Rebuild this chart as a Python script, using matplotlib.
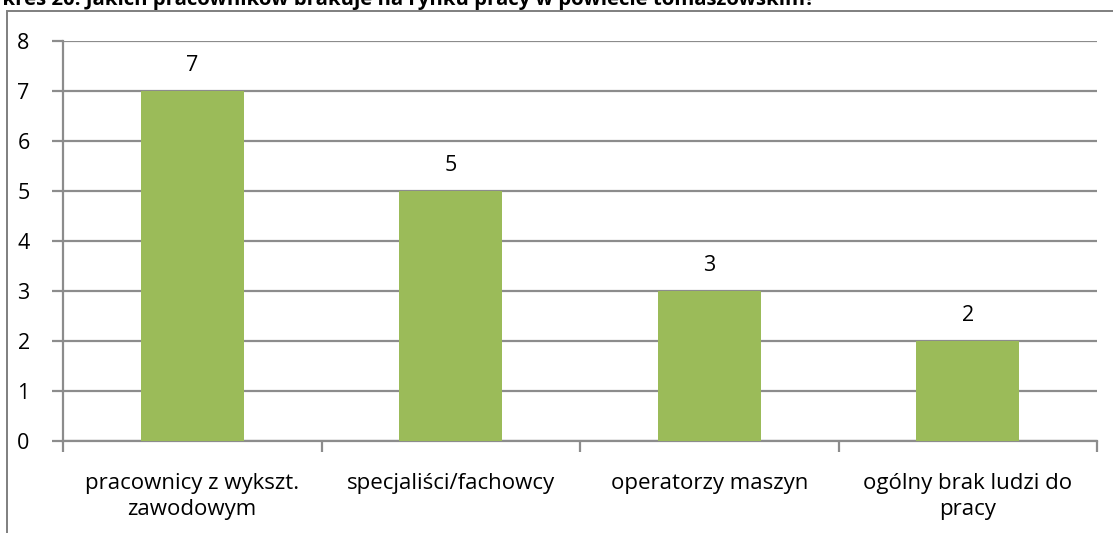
import matplotlib.pyplot as plt
from matplotlib.patches import Rectangle

categories = ['pracownicy z wykszt.\nzawodowym', 'specjaliści/fachowcy',
              'operatorzy maszyn', 'ogólny brak ludzi do\npracy']
values = [7, 5, 3, 2]
y_ticks = [0, 1, 2, 3, 4, 5, 6, 7, 8]
title = 'Wykres 20. Jakich pracowników brakuje na rynku pracy w powiecie tomaszowskim?'


def main():
    plt.rcParams['font.family'] = ['Open Sans', 'DejaVu Sans']
    fig = plt.figure(figsize=(11.13, 5.33), dpi=100)
    ax = fig.add_axes([63 / 1113, 1 - 441 / 533, (1097 - 63) / 1113, 400 / 533])

    grid_col = '#8c8c8c'
    x = range(len(values))
    ax.bar(x, values, width=0.4, color='#9bbb59', zorder=3)
    for xi, v in zip(x, values):
        ax.text(xi, v + 0.3, str(v), ha='center', va='bottom', fontsize=15.5)

    ax.set_xlim(-0.5, len(values) - 0.5)
    ax.set_ylim(0, 8)
    ax.set_yticks(y_ticks)
    ax.yaxis.grid(True, color=grid_col, linewidth=1.6, zorder=0)
    ax.set_xticks(list(x))
    ax.set_xticklabels(categories, fontsize=16, linespacing=1.3)
    ax.set_xticks([i - 0.5 for i in range(len(values) + 1)], minor=True)
    ax.tick_params(axis='x', which='major', length=0, pad=23)
    ax.tick_params(axis='x', which='minor', length=8, color=grid_col, width=1.6)
    ax.tick_params(axis='y', length=8, color=grid_col, width=1.6, labelsize=15.5, pad=16)
    for s in ['top', 'right']:
        ax.spines[s].set_visible(False)
    for s in ['left', 'bottom']:
        ax.spines[s].set_color(grid_col)
        ax.spines[s].set_linewidth(1.6)

    fig.patches.append(Rectangle((7 / 1113, -0.1), 1.2, 1 - 11 / 533 + 0.1,
                                 transform=fig.transFigure, fill=False,
                                 edgecolor='#7f7f7f', linewidth=1.4))
    fig.text(815 / 1113, 1 - 5 / 533, title, ha='right', va='baseline',
             fontsize=14.7, fontweight='bold')
    fig.savefig('out.png', dpi=100)


main()
